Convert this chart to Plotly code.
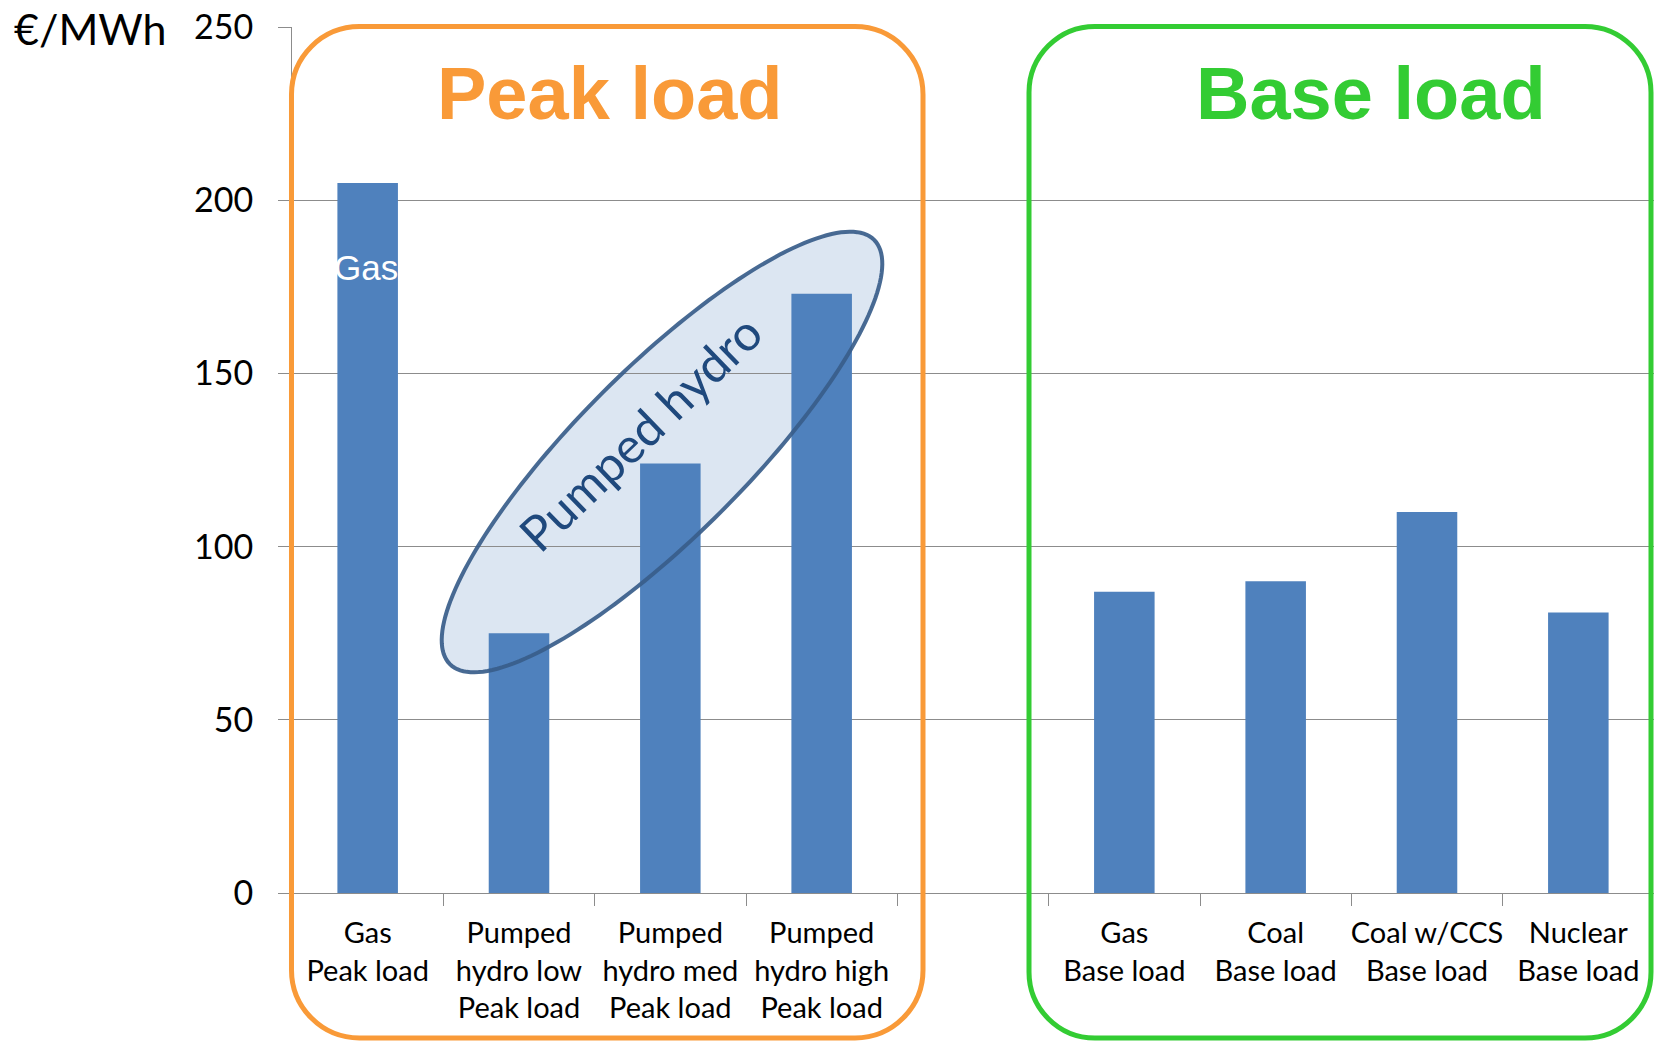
import numpy as np
import plotly.graph_objects as go

# Levelised cost per technology (€/MWh); the blank slot separates the two groups
categories = [
    "Gas<br>Peak load",
    "Pumped<br>hydro low<br>Peak load",
    "Pumped<br>hydro med<br>Peak load",
    "Pumped<br>hydro high<br>Peak load",
    " ",
    "Gas<br>Base load",
    "Coal<br>Base load",
    "Coal w/CCS<br>Base load",
    "Nuclear<br>Base load",
]
costs = [205, 75, 124, 173, None, 87, 90, 110, 81]
y_ticks = [0, 50, 100, 150, 200, 250]

W, H = 1654, 1041
L, T, R, B = 292, 27, 0, 148
PW, PH = W - L - R, H - T - B

BAR = "#4F81BD"
GRID = "#8C8C8C"
ORANGE = "#F99A38"
GREEN = "#33CC33"


def fx(px):
    return (px - L) / PW


def fy(py):
    return (T + PH - py) / PH


def rounded_rect(x0, y0, x1, y1, r):
    k = 0.5523 * r
    pts = [
        ("M", [(x0 + r, y0)]),
        ("L", [(x1 - r, y0)]),
        ("C", [(x1 - r + k, y0), (x1, y0 + r - k), (x1, y0 + r)]),
        ("L", [(x1, y1 - r)]),
        ("C", [(x1, y1 - r + k), (x1 - r + k, y1), (x1 - r, y1)]),
        ("L", [(x0 + r, y1)]),
        ("C", [(x0 + r - k, y1), (x0, y1 - r + k), (x0, y1 - r)]),
        ("L", [(x0, y0 + r)]),
        ("C", [(x0, y0 + r - k), (x0 + r - k, y0), (x0 + r, y0)]),
    ]
    out = []
    for cmd, ps in pts:
        out.append(cmd + " ".join(f"{fx(a):.5f},{fy(b):.5f}" for a, b in ps))
    return " ".join(out) + " Z"


def ellipse_path(cx, cy, a, b, deg, n=180):
    t = np.linspace(0, 2 * np.pi, n, endpoint=False)
    phi = np.deg2rad(deg)
    ux, uy = np.cos(phi), -np.sin(phi)
    vx, vy = np.sin(phi), np.cos(phi)
    xs = cx + a * np.cos(t) * ux + b * np.sin(t) * vx
    ys = cy + a * np.cos(t) * uy + b * np.sin(t) * vy
    parts = [f"{fx(x):.5f},{fy(y):.5f}" for x, y in zip(xs, ys)]
    return "M" + " L".join(parts) + " Z"


fig = go.Figure(
    go.Bar(
        x=categories,
        y=costs,
        marker=dict(color=BAR, line=dict(width=0)),
        hoverinfo="skip",
    )
)

ell = ellipse_path(662, 452, 300, 84, 45)

shapes = [
    dict(type="path", path=ell, xref="paper", yref="paper", layer="below",
         fillcolor="#DCE6F2", line=dict(width=0)),
    dict(type="path", path=ell, xref="paper", yref="paper", layer="above",
         fillcolor="rgba(0,0,0,0)", line=dict(color="rgba(56,93,138,0.92)", width=4)),
    dict(type="path", path=rounded_rect(291.5, 26.5, 923, 1038, 68),
         xref="paper", yref="paper", layer="above",
         line=dict(color=ORANGE, width=5), fillcolor="rgba(0,0,0,0)"),
    dict(type="path", path=rounded_rect(1029, 26.5, 1651, 1038, 66),
         xref="paper", yref="paper", layer="above",
         line=dict(color=GREEN, width=5), fillcolor="rgba(0,0,0,0)"),
]

annotations = [
    dict(text="€/MWh", x=fx(12), y=fy(29), xref="paper", yref="paper",
         xanchor="left", yanchor="middle", showarrow=False,
         font=dict(family="Lato", size=43, color="#000000")),
    dict(text="Peak load", x=fx(610), y=fy(93), xref="paper", yref="paper",
         xanchor="center", yanchor="middle", showarrow=False,
         font=dict(family="Liberation Sans", size=74, color=ORANGE, weight="bold")),
    dict(text="Base load", x=fx(1371), y=fy(93), xref="paper", yref="paper",
         xanchor="center", yanchor="middle", showarrow=False,
         font=dict(family="Liberation Sans", size=74, color=GREEN, weight="bold")),
    dict(text="Gas", x=fx(366), y=fy(267), xref="paper", yref="paper",
         xanchor="center", yanchor="middle", showarrow=False,
         font=dict(family="Liberation Sans", size=35, color="#FFFFFF")),
    dict(text="Pumped hydro", x=fx(640), y=fy(432), xref="paper", yref="paper",
         xanchor="center", yanchor="middle", showarrow=False, textangle=-44,
         font=dict(family="Lato", size=49, color="#1F497D")),
]

fig.update_layout(
    width=W, height=H,
    margin=dict(l=L, r=R, t=T, b=B, pad=0, autoexpand=False),
    paper_bgcolor="white", plot_bgcolor="white",
    bargap=0.6, showlegend=False,
    shapes=shapes, annotations=annotations,
    xaxis=dict(
        type="category", categoryorder="array", categoryarray=categories,
        range=[-0.5, len(categories) - 0.5], automargin=False,
        showline=True, linecolor=GRID, linewidth=1,
        ticks="outside", tickson="boundaries", ticklen=12, tickcolor=GRID,
        showgrid=False, ticklabelstandoff=14, tickangle=0,
        tickfont=dict(family="Lato", size=29, color="#000000"),
        fixedrange=True,
    ),
    yaxis=dict(
        range=[0, 250], tickvals=y_ticks, automargin=False,
        showgrid=True, gridcolor=GRID, gridwidth=1, zeroline=False,
        showline=True, linecolor=GRID, linewidth=1,
        ticks="outside", ticklen=13, tickcolor=GRID,
        ticklabelstandoff=18,
        tickfont=dict(family="Lato", size=34, color="#000000"),
        fixedrange=True,
    ),
)

fig.write_html("out.html")
